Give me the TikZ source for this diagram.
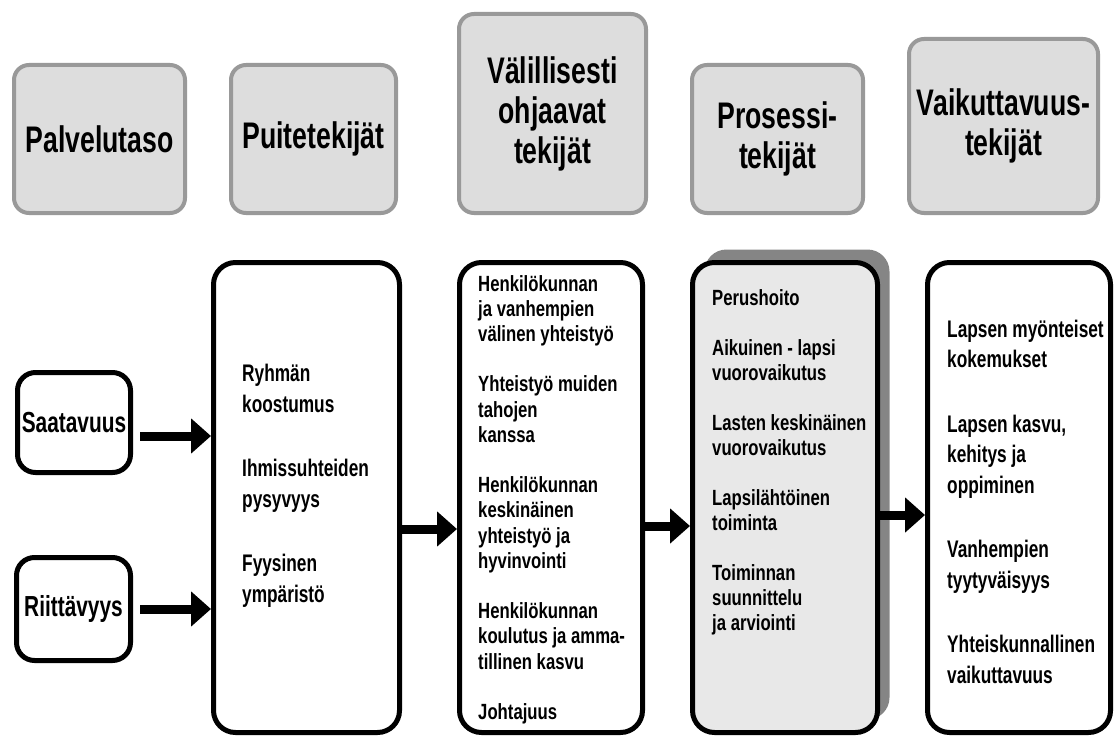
\documentclass[tikz,border=0pt]{standalone}
\usepackage{fontspec}
\usetikzlibrary{arrows.meta,shadows}
\newfontfamily\cfA[FakeStretch=0.72]{Liberation Sans}
\newfontfamily\cfB[FakeStretch=0.76]{Liberation Sans}
\definecolor{hdrfill}{HTML}{DDDDDD}
\definecolor{hdrline}{HTML}{999999}
\definecolor{prosfill}{HTML}{E8E8E8}
\definecolor{shadowgray}{HTML}{858585}
\begin{document}
\begin{tikzpicture}[x=1pt,y=-1pt,
  hdr/.style={draw=hdrline, fill=hdrfill, line width=4pt, rounded corners=15pt,
    inner sep=0pt, align=center, font=\cfA\bfseries\fontsize{37}{40}\selectfont},
  bigbox/.style={draw=black, fill=white, line width=5pt, rounded corners=22pt,
    inner sep=0pt, minimum height=470pt},
  smallbox/.style={draw=black, fill=white, line width=5pt, rounded corners=18pt,
    inner sep=0pt, font=\cfA\bfseries\fontsize{29}{32}\selectfont},
  txt/.style={anchor=base west, inner sep=0pt},
  arr/.style={line width=9pt, -{Triangle[length=20pt,width=34pt]}}
]
\useasboundingbox (0,0) rectangle (1115,738);

% header boxes
\node[hdr, minimum width=171pt, minimum height=148pt] (h1) at (99.5,139) {Palvelutaso};
\node[hdr, minimum width=165pt, minimum height=148pt] (h2) at (313.5,139) {Puitetekijät};
\node[hdr, minimum width=187pt, minimum height=199pt] (h3) at (552.5,113.5) {Välillisesti\\ohjaavat\\tekijät};
\node[hdr, minimum width=171pt, minimum height=148pt] (h4) at (777.5,139) {Prosessi-\\tekijät};
\node[hdr, minimum width=189pt, minimum height=174pt] (h5) at (1003.5,126) {Vaikuttavuus-\\tekijät};

% lower boxes
\node[smallbox, minimum width=113pt, minimum height=100pt] (saat) at (74,422.5) {Saatavuus};
\node[smallbox, minimum width=114pt, minimum height=103pt] (riit) at (73.5,609) {Riittävyys};
\node[bigbox, minimum width=186pt] (puite) at (306.5,497.5) {};
\node[bigbox, minimum width=183pt] (valil) at (551,497.5) {};
\node[bigbox, minimum width=185pt, fill=prosfill,
  drop shadow={shadow xshift=12pt, shadow yshift=13pt, fill=shadowgray, opacity=1}] (pros) at (785,497.5) {};
\node[bigbox, minimum width=183pt] (vaik) at (1019,497.5) {};

% texts
\node[txt, font=\cfA\bfseries\fontsize{24}{31}\selectfont] (tpuite) at (242,381)
  {\begin{tabular}[t]{@{}l@{}}Ryhmän\\koostumus\\[33pt]Ihmissuhteiden\\pysyvyys\\[33pt]Fyysinen\\ympäristö\end{tabular}};
\node[txt, font=\cfB\bfseries\fontsize{22}{25.2}\selectfont] (tvalil) at (478,291)
  {\begin{tabular}[t]{@{}l@{}}Henkilökunnan\\ja vanhempien\\välinen yhteistyö\\[25.2pt]Yhteistyö muiden\\tahojen\\kanssa\\[25.2pt]Henkilökunnan\\keskinäinen\\yhteistyö ja\\hyvinvointi\\[25.2pt]Henkilökunnan\\koulutus ja amma-\\tillinen kasvu\\[25.2pt]Johtajuus\end{tabular}};
\node[txt, font=\cfB\bfseries\fontsize{22}{25}\selectfont] (tpros) at (712,305)
  {\begin{tabular}[t]{@{}l@{}}Perushoito\\[25pt]Aikuinen - lapsi\\vuorovaikutus\\[25pt]Lasten keskinäinen\\vuorovaikutus\\[25pt]Lapsilähtöinen\\toiminta\\[25pt]Toiminnan\\suunnittelu\\ja arviointi\end{tabular}};
\node[txt, font=\cfA\bfseries\fontsize{24}{30.5}\selectfont] (tvaik) at (947,337)
  {\begin{tabular}[t]{@{}l@{}}Lapsen myönteiset\\kokemukset\\[34pt]Lapsen kasvu,\\kehitys ja\\oppiminen\\[34pt]Vanhempien\\tyytyväisyys\\[34pt]Yhteiskunnallinen\\vaikuttavuus\end{tabular}};

% arrows
\draw[arr, shorten <=7pt] ([yshift=-13.5pt]saat.east) -- ([yshift=-13.5pt]saat.east -| puite.west);
\draw[arr, shorten <=7pt] (riit.east) -- (riit.east -| puite.west);
\draw[arr] ([yshift=-31.5pt]puite.east) -- ([yshift=-31.5pt]puite.east -| valil.west);
\draw[arr] ([yshift=-28.5pt]valil.east) -- ([yshift=-28.5pt]valil.east -| pros.west);
\draw[arr] ([yshift=-17.5pt]pros.east) -- ([yshift=-17.5pt]pros.east -| vaik.west);
\end{tikzpicture}
\end{document}
